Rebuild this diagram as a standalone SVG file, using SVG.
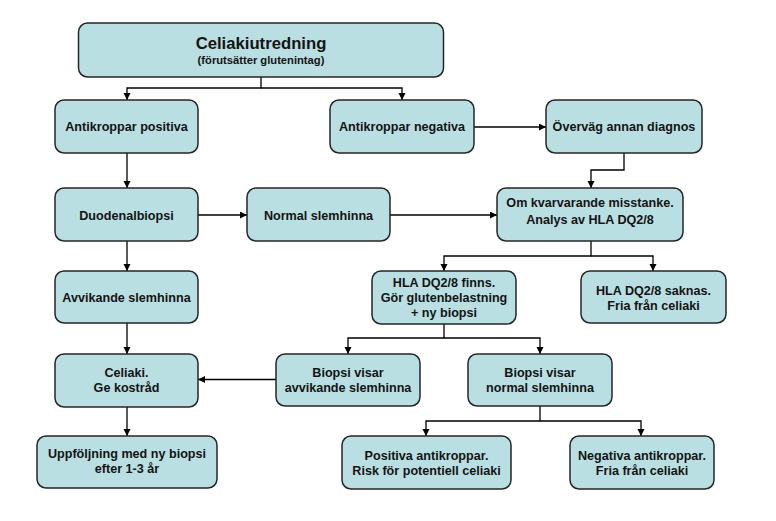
<svg xmlns="http://www.w3.org/2000/svg" width="776" height="521" viewBox="0 0 776 521">
<defs>
<style>
.box{fill:#B9DFE2;stroke:#262626;stroke-width:1.5}
.t{font-family:"Liberation Sans",Arial,sans-serif;font-weight:bold;font-size:12.6px;fill:#141414;text-anchor:middle}
.c{fill:none;stroke:#000;stroke-width:1.3}
</style>
<marker id="ah" markerUnits="userSpaceOnUse" markerWidth="8" markerHeight="8" refX="7" refY="3.5" orient="auto">
<path d="M0,0 L7,3.5 L0,7 z" fill="#000"/>
</marker>
</defs>
<rect width="776" height="521" fill="#fff"/>
<g id="connectors">
<path class="c" d="M261,77 V88 H127 V100" marker-end="url(#ah)"/>
<path class="c" d="M261,88 H402 V100" marker-end="url(#ah)"/>
<path class="c" d="M474,127 H546" marker-end="url(#ah)"/>
<path class="c" d="M127,153 V188" marker-end="url(#ah)"/>
<path class="c" d="M624,153 V170 H591 V188" marker-end="url(#ah)"/>
<path class="c" d="M198,215 H247" marker-end="url(#ah)"/>
<path class="c" d="M390,215 H497" marker-end="url(#ah)"/>
<path class="c" d="M127,241 V271" marker-end="url(#ah)"/>
<path class="c" d="M591,241 V256 H444 V271" marker-end="url(#ah)"/>
<path class="c" d="M591,256 H653 V271" marker-end="url(#ah)"/>
<path class="c" d="M127,323 V354" marker-end="url(#ah)"/>
<path class="c" d="M444,324 V338 H348 V354" marker-end="url(#ah)"/>
<path class="c" d="M444,338 H540 V354" marker-end="url(#ah)"/>
<path class="c" d="M276,379.5 H198" marker-end="url(#ah)"/>
<path class="c" d="M127,407 V436" marker-end="url(#ah)"/>
<path class="c" d="M540,406 V421 H426 V436" marker-end="url(#ah)"/>
<path class="c" d="M540,421 H641 V436" marker-end="url(#ah)"/>
</g>
<g id="n-celiakiutredning">
<rect class="box" x="78.5" y="23" width="365" height="54" rx="9"/>
<text class="t" x="261" y="48.5" style="font-size:16.7px">Celiakiutredning</text>
<text class="t" x="261" y="64" style="font-size:11.2px">(förutsätter glutenintag)</text>
</g>
<g id="n-antikroppar-positiva">
<rect class="box" x="55" y="100" width="143" height="53" rx="9"/>
<text class="t" x="126.5" y="131">Antikroppar positiva</text>
</g>
<g id="n-antikroppar-negativa">
<rect class="box" x="330" y="100" width="144" height="53" rx="9"/>
<text class="t" x="402" y="131">Antikroppar negativa</text>
</g>
<g id="n-overvag">
<rect class="box" x="546" y="100" width="156" height="53" rx="9"/>
<text class="t" x="624" y="131">Överväg annan diagnos</text>
</g>
<g id="n-duodenalbiopsi">
<rect class="box" x="55" y="188" width="143" height="53" rx="9"/>
<text class="t" x="126.5" y="219.5">Duodenalbiopsi</text>
</g>
<g id="n-normal-slemhinna">
<rect class="box" x="247" y="188" width="143" height="53" rx="9"/>
<text class="t" x="318.5" y="219.5">Normal slemhinna</text>
</g>
<g id="n-om-kvarvarande">
<rect class="box" x="497" y="188" width="186" height="53" rx="9"/>
<text class="t" x="590" y="206.7">Om kvarvarande  misstanke.</text>
<text class="t" x="590" y="223.5">Analys av HLA DQ2/8</text>
</g>
<g id="n-avvikande-slemhinna">
<rect class="box" x="55" y="271" width="143" height="52" rx="9"/>
<text class="t" x="126.5" y="302">Avvikande slemhinna</text>
</g>
<g id="n-hla-finns">
<rect class="box" x="372" y="271" width="144" height="53" rx="9"/>
<text class="t" x="444" y="286.7">HLA DQ2/8 finns.</text>
<text class="t" x="444" y="301.8">Gör glutenbelastning</text>
<text class="t" x="444" y="317">+ ny biopsi</text>
</g>
<g id="n-hla-saknas">
<rect class="box" x="581" y="271" width="145" height="52" rx="9"/>
<text class="t" x="653.5" y="295">HLA DQ2/8 saknas.</text>
<text class="t" x="653.5" y="309.5">Fria från celiaki</text>
</g>
<g id="n-celiaki">
<rect class="box" x="55" y="354" width="143" height="53" rx="9"/>
<text class="t" x="126.5" y="377.3">Celiaki.</text>
<text class="t" x="126.5" y="392">Ge kostråd</text>
</g>
<g id="n-biopsi-avvikande">
<rect class="box" x="276" y="354" width="144" height="52" rx="9"/>
<text class="t" x="348" y="376.7">Biopsi visar</text>
<text class="t" x="348" y="391.7">avvikande slemhinna</text>
</g>
<g id="n-biopsi-normal">
<rect class="box" x="468" y="354" width="144" height="52" rx="9"/>
<text class="t" x="540" y="376.7">Biopsi visar</text>
<text class="t" x="540" y="391.7">normal slemhinna</text>
</g>
<g id="n-uppfoljning">
<rect class="box" x="37" y="436" width="180" height="52" rx="9"/>
<text class="t" x="127" y="458.3">Uppföljning med ny biopsi</text>
<text class="t" x="127" y="472.5">efter 1-3 år</text>
</g>
<g id="n-positiva-antikroppar">
<rect class="box" x="342" y="436" width="169" height="53" rx="9"/>
<text class="t" x="426.5" y="460">Positiva antikroppar.</text>
<text class="t" x="426.5" y="474.5">Risk för potentiell celiaki</text>
</g>
<g id="n-negativa-antikroppar">
<rect class="box" x="570" y="436" width="144" height="53" rx="9"/>
<text class="t" x="642" y="460">Negativa antikroppar.</text>
<text class="t" x="642" y="474.5">Fria från celiaki</text>
</g>
</svg>
